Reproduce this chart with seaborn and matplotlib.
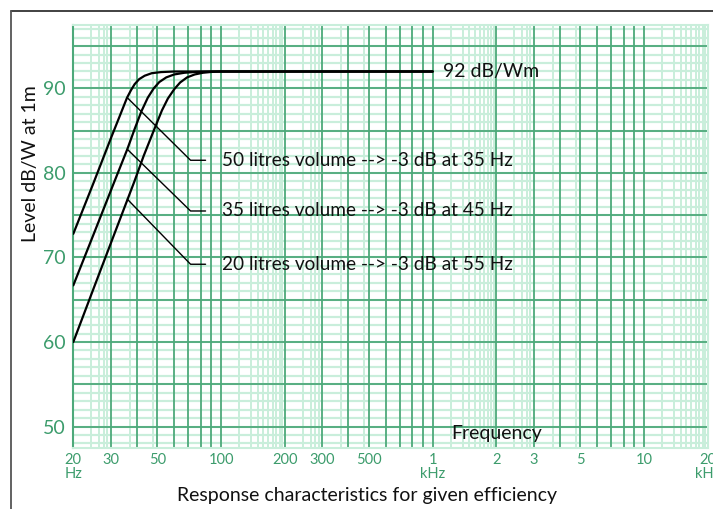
import matplotlib
matplotlib.use('Agg')
import matplotlib.pyplot as plt
from matplotlib.lines import Line2D
from matplotlib.ticker import NullLocator
import numpy as np
import pandas as pd
import seaborn as sns

# Response curves (Hz, dB)
hz_50 = [20, 25, 30, 33, 35.9, 37.5, 39, 41, 43.5, 47, 52, 60, 75, 1000]
db_50 = [72.8, 78.9, 84.0, 86.6, 88.9, 89.8, 90.5, 91.1, 91.5, 91.8, 91.93, 92.0, 92.0, 92.0]

hz_35 = [20, 25, 31.2, 36, 39, 42, 45, 48, 51, 55, 60, 67, 76, 90, 1000]
db_35 = [66.7, 72.8, 78.9, 82.8, 85.2, 87.3, 88.9, 90.0, 90.75, 91.3, 91.65, 91.85, 91.95, 92.0, 92.0]

hz_20 = [20, 25, 30, 38.9, 43, 48, 52.5, 56, 60, 64, 69, 75, 82, 90, 100, 1000]
db_20 = [60.0, 66.4, 71.6, 79.0, 82.0, 85.0, 87.4, 88.8, 89.9, 90.7, 91.3, 91.65, 91.85, 91.95, 92.0, 92.0]

volumes = ['50 litres', '35 litres', '20 litres']
labels = ['50 litres volume --> -3 dB at 35 Hz',
          '35 litres volume --> -3 dB at 45 Hz',
          '20 litres volume --> -3 dB at 55 Hz']

# leader lines: point on curve -> elbow -> short horizontal
pointer_hz = [36, 36, 36]
pointer_db = [88.9, 82.8, 76.9]
elbow_hz = 71.7
end_hz = 84.4
elbow_db = [81.5, 75.5, 69.2]

tick_hz = [20, 30, 50, 100, 200, 300, 500, 1000, 2000, 3000, 5000, 10000, 20000]
tick_labels = ['20\nHz', '30', '50', '100', '200', '300', '500', '1\nkHz',
               '2', '3', '5', '10', '20\nkHz']
ytick_db = [50, 60, 70, 80, 90]

GREEN = '#3c9c6c'
DARK_GRID = '#4da97a'
LIGHT_GRID = '#c9eedb'

sns.set_style('white')
plt.rcParams['font.family'] = ['Lato', 'DejaVu Sans']

df = pd.concat([
    pd.DataFrame({'hz': h, 'db': d, 'volume': v})
    for h, d, v in zip([hz_50, hz_35, hz_20], [db_50, db_35, db_20], volumes)
])

fig = plt.figure(figsize=(7.13, 5.09), dpi=100)
ax = fig.add_axes([73.3 / 713, 1 - 447.7 / 509, 634.5 / 713, 422.7 / 509])
ax.set_xscale('log')
ax.set_xlim(20, 20000)
ax.set_ylim(47.5, 97.5)

# log graph paper
sub = [1.22, 1.39, 1.49, 1.58, 1.67, 1.75, 1.82, 1.89, 1.95,
       2.43, 2.65, 2.79, 2.9, 3.7, 4.74]
major_x, minor_x = [], []
for dec in [10, 100, 1000, 10000]:
    major_x += [n * dec for n in range(1, 10) if 20 <= n * dec <= 20000]
    minor_x += [m * dec for m in sub if 20 <= m * dec <= 20000]
major_x.append(20000)
xt = ax.get_xaxis_transform()
yt = ax.get_yaxis_transform()
ax.vlines(minor_x, 0, 1, transform=xt, color=LIGHT_GRID, lw=1.4, zorder=0.5)
ax.hlines(np.arange(48, 98, 1), 0, 1, transform=yt, color=LIGHT_GRID, lw=1.6, zorder=0.5)
ax.vlines(major_x, 0, 1, transform=xt, color=DARK_GRID, lw=1.3, zorder=0.6)
ax.hlines(np.arange(50, 98, 5), 0, 1, transform=yt, color=DARK_GRID, lw=1.3, zorder=0.6)

for s in ax.spines.values():
    s.set_color(LIGHT_GRID)
    s.set_linewidth(1.5)
ax.spines['left'].set_color(DARK_GRID)

sns.lineplot(data=df, x='hz', y='db', hue='volume', palette=['black'] * 3,
             estimator=None, sort=False, legend=False, lw=1.6, ax=ax, zorder=3)

for p, e, lab in zip(pointer_db, elbow_db, labels):
    ax.plot([pointer_hz[0], elbow_hz, end_hz], [p, e, e], color='black', lw=1.0, zorder=3)
    ax.text(101, e, lab, fontsize=13.7, color='#111111', va='center', ha='left', zorder=4)

ax.text(1120, 92, '92 dB/Wm', fontsize=14, color='#111111', va='center', ha='left', zorder=4)
ax.text(0.596, 0.033, 'Frequency', transform=ax.transAxes, fontsize=14,
        color='#111111', va='center', ha='left', zorder=4)

ax.set_xticks(tick_hz)
ax.set_xticklabels(tick_labels, linespacing=1.05)
ax.xaxis.set_minor_locator(NullLocator())
ax.set_yticks(ytick_db)
ax.tick_params(axis='x', length=0, pad=3.5, labelsize=10.5, labelcolor=GREEN)
ax.tick_params(axis='y', length=0, pad=5.5, labelsize=14, labelcolor=GREEN)
ax.set_xlabel('')
ax.set_ylabel('')

fig.text(31 / 713, 1 - 164 / 509, 'Level dB/W at 1m', rotation=90, fontsize=14,
         color='#111111', ha='center', va='center')
fig.text(366.5 / 713, 1 - 496 / 509, 'Response characteristics for given efficiency',
         fontsize=14, color='#111111', ha='center', va='center')

# outer frame (top and left edges visible)
fig.add_artist(Line2D([10.7 / 713, 1], [1 - 10.7 / 509] * 2, transform=fig.transFigure,
                      color='#333333', lw=1.3))
fig.add_artist(Line2D([10.7 / 713] * 2, [0, 1 - 10.7 / 509], transform=fig.transFigure,
                      color='#555555', lw=1.3))

fig.savefig('out.png', dpi=100)
